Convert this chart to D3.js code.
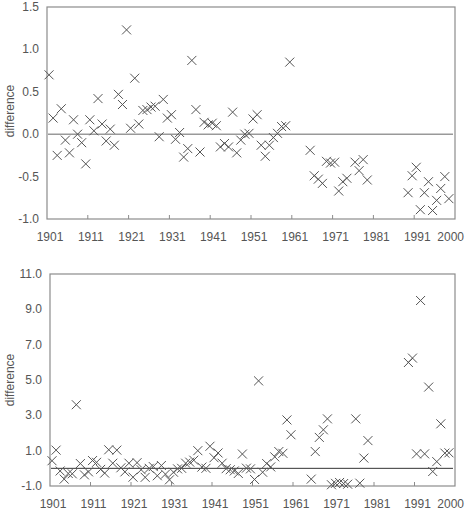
<!DOCTYPE html>
<html>
<head>
<meta charset="utf-8">
<script src="https://cdn.jsdelivr.net/npm/d3@7"></script>
<style>
  body { margin: 0; background: #fff; }
  svg { font-family: "Liberation Sans", Arial, sans-serif; }
</style>
</head>
<body>
<svg id="chart" width="465" height="515"></svg>
<script>
"use strict";

// years shown in both panels (same gaps in both)
var years = [1901,1902,1903,1904,1905,1906,1907,1908,1909,1910,
  1911,1912,1913,1914,1915,1916,1917,1918,1919,1920,
  1921,1922,1923,1924,1925,1926,1927,1928,1929,1930,
  1931,1932,1933,1934,1935,1936,1937,1938,1939,1940,
  1941,1942,1943,1944,1945,1946,1947,1948,1949,1950,
  1951,1952,1953,1954,1955,1956,1957,1958,1959,1960,
  1965,1966,1967,1968,1969,1970,1971,1972,1973,1974,
  1976,1977,1978,1979,
  1989,1990,1991,1992,1993,1994,1995,1996,1997,1998,1999];

var topDiff = [0.70,0.19,-0.25,0.30,-0.07,-0.22,0.17,0.00,-0.10,-0.35,
  0.17,0.04,0.42,0.12,-0.08,0.06,-0.13,0.47,0.35,1.23,
  0.07,0.66,0.12,0.28,0.29,0.32,0.33,-0.03,0.41,0.19,
  0.23,-0.06,0.02,-0.27,-0.17,0.87,0.29,-0.21,0.14,0.11,
  0.13,0.10,-0.15,-0.11,-0.15,0.26,-0.22,-0.07,0.00,0.01,
  0.18,0.23,-0.13,-0.26,-0.13,-0.04,0.01,0.09,0.10,0.85,
  -0.19,-0.49,-0.53,-0.58,-0.32,-0.34,-0.33,-0.67,-0.56,-0.52,
  -0.33,-0.43,-0.30,-0.54,
  -0.69,-0.49,-0.39,-0.89,-0.69,-0.56,-0.90,-0.78,-0.64,-0.50,-0.76];

var bottomDiff = [0.43,1.03,-0.15,-0.61,-0.29,-0.31,3.60,0.27,-0.37,-0.20,
  0.44,0.34,-0.06,-0.27,1.05,0.29,1.03,0.03,-0.20,0.29,
  -0.50,0.32,-0.08,-0.51,0.00,0.10,-0.42,0.16,-0.33,-0.65,
  -0.22,-0.03,0.00,0.29,0.35,0.46,1.00,0.07,0.00,1.25,
  0.60,0.87,0.29,-0.02,-0.08,-0.15,-0.29,0.81,0.01,-0.03,
  -0.63,4.95,-0.22,0.27,0.08,0.65,0.95,0.85,2.74,1.90,
  -0.61,0.95,1.75,2.18,2.80,-0.93,-0.85,-0.80,-0.86,-0.90,
  2.80,-0.84,0.58,1.57,
  5.99,6.24,0.82,9.50,0.82,4.60,-0.18,0.38,2.52,0.86,0.88];

var xLabels = [1901,1911,1921,1931,1941,1951,1961,1971,1981,1991,2000];
var topTicks = [-1.0,-0.5,0.0,0.5,1.0,1.5];
var bottomTicks = [-1.0,1.0,3.0,5.0,7.0,9.0,11.0];

var svg = d3.select("#chart");
var axisColor = "#8c8c8c";
var textColor = "#555";

function drawPanel(opt) {
  var x = d3.scaleLinear().domain([1900.5, 2000.5]).range([opt.left, opt.right]);
  var y = d3.scaleLinear().domain(opt.domain).range([opt.bottom, opt.top]);
  var g = svg.append("g");

  // frame
  g.append("rect")
    .attr("x", opt.left).attr("y", opt.top)
    .attr("width", opt.right - opt.left)
    .attr("height", opt.bottom - opt.top)
    .attr("fill", "none")
    .attr("stroke", axisColor)
    .attr("stroke-width", 1.2);

  // decade ticks, between categories, pointing inward
  g.selectAll(".tk")
    .data(d3.range(1910.5, 2000, 10))
    .enter()
    .append("line")
    .attr("x1", function(d){ return x(d); })
    .attr("x2", function(d){ return x(d); })
    .attr("y1", opt.bottom)
    .attr("y2", opt.bottom - 4)
    .attr("stroke", axisColor);

  // last label would run off the page, keep it inside
  g.selectAll(".xl")
    .data(xLabels)
    .enter()
    .append("text")
    .attr("x", function(d){ return d == 2000 ? 464 : x(d) + 1; })
    .attr("y", opt.bottom + 22)
    .attr("text-anchor", function(d){ return d == 2000 ? "end" : "middle"; })
    .attr("font-size", "12px")
    .attr("fill", textColor)
    .text(function(d){ return d; });

  g.selectAll(".yl")
    .data(opt.ticks)
    .enter()
    .append("text")
    .attr("x", opt.left - 8)
    .attr("y", function(d){ return y(d) + 4; })
    .attr("text-anchor", "end")
    .attr("font-size", "12px")
    .attr("fill", textColor)
    .text(function(d){ return d3.format(".1f")(d).replace("−", "-"); });

  g.append("text")
    .attr("transform", "translate(14," + ((opt.top + opt.bottom) / 2 + opt.labelShift) + ") rotate(-90)")
    .attr("text-anchor", "middle")
    .attr("font-size", "12px")
    .attr("fill", textColor)
    .text("difference");

  // zero line
  g.append("line")
    .attr("x1", opt.left + 1).attr("x2", opt.right - 2)
    .attr("y1", y(0)).attr("y2", y(0))
    .attr("stroke", opt.zeroColor)
    .attr("stroke-width", opt.zeroWidth);

  g.selectAll(".pt")
    .data(years)
    .enter()
    .append("path")
    .attr("transform", function(d, i){ return "translate(" + x(d) + "," + y(opt.values[i]) + ")"; })
    .attr("d", "M-4.5,-4.5L4.5,4.5M-4.5,4.5L4.5,-4.5")
    .attr("stroke", "#555")
    .attr("stroke-width", 1)
    .attr("fill", "none");
}

drawPanel({ left: 47, right: 455, top: 7, bottom: 219, domain: [-1, 1.5],
  ticks: topTicks, values: topDiff, zeroColor: "#999", zeroWidth: 1.5, labelShift: -2 });
drawPanel({ left: 50, right: 455, top: 274, bottom: 486, domain: [-1, 11],
  ticks: bottomTicks, values: bottomDiff, zeroColor: "#333", zeroWidth: 1, labelShift: 0 });
</script>
</body>
</html>
